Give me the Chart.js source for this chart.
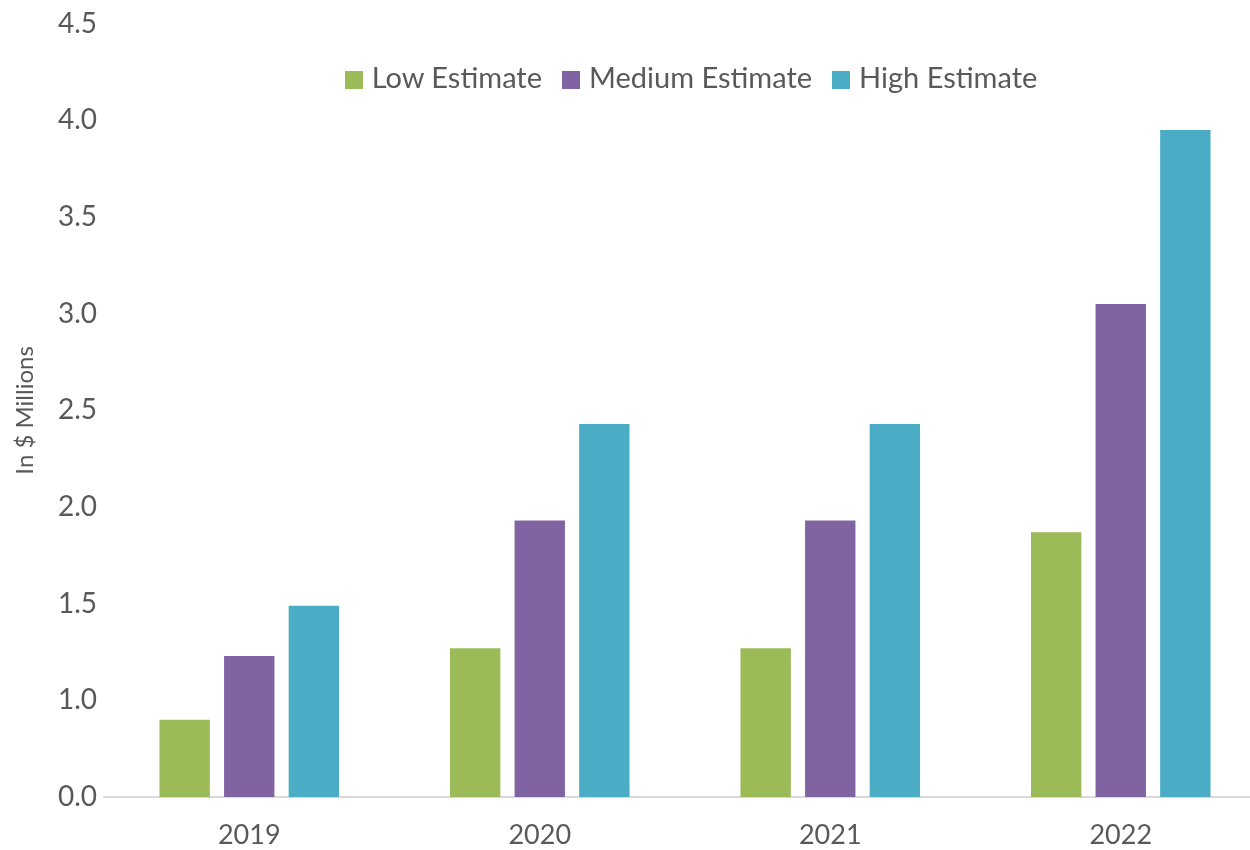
<!DOCTYPE html>
<html>
<head>
<meta charset="utf-8">
<title>Estimates</title>
<script src="https://cdn.jsdelivr.net/npm/chart.js@4.4.1/dist/chart.umd.min.js"></script>
<style>
  html, body { margin: 0; padding: 0; overflow: hidden; background: #fff; }
  #wrap { position: relative; width: 1266px; height: 850px; }
  #legend {
    position: absolute; top: 59px; left: 110px; width: 1162px;
    text-align: center; font-family: Lato, sans-serif; font-size: 29px; color: #595959;
    line-height: 36px;
  }
  #legend .item { margin: 0 10px; white-space: nowrap; }
  #legend .box { display: inline-block; width: 18px; height: 18px; margin-right: 9px; vertical-align: -1px; }
</style>
</head>
<body>
<div id="wrap">
  <canvas id="myChart" width="1266" height="850"></canvas>
  <div id="legend"></div>
</div>
<script>
let years = ['2019', '2020', '2021', '2022']
let lowEstimate = [0.9, 1.27, 1.27, 1.87]
let mediumEstimate = [1.23, 1.93, 1.93, 3.05]
let highEstimate = [1.49, 2.43, 2.43, 3.95]
// the axis in the picture is labelled 0.0 where 0.5 would be
let tickValues = [0.5, 1.0, 1.5, 2.0, 2.5, 3.0, 3.5, 4.0, 4.5]
let tickLabels = ['0.0', '1.0', '1.5', '2.0', '2.5', '3.0', '3.5', '4.0', '4.5']

const textColor = '#595959'

const ctx = document.getElementById('myChart')

const myChart = new Chart(ctx, {
    type: 'bar',
    data: {
        labels: years,
        datasets: [
            { label: 'Low Estimate', data: lowEstimate, backgroundColor: '#9BBB59' },
            { label: 'Medium Estimate', data: mediumEstimate, backgroundColor: '#8064A2' },
            { label: 'High Estimate', data: highEstimate, backgroundColor: '#4BACC6' }
        ]
    },
    options: {
        responsive: false,
        animation: false,
        categoryPercentage: 0.667,
        barPercentage: 0.78,
        layout: { padding: { top: 21, left: 0, right: 0, bottom: 0 } },
        plugins: {
            legend: { display: false },
            tooltip: { enabled: false }
        },
        scales: {
            x: {
                grid: { drawOnChartArea: false, drawTicks: false },
                border: { display: true, color: '#D9D9D9', width: 2 },
                ticks: {
                    color: textColor,
                    font: { family: 'Lato', size: 27 },
                    padding: 22,
                    maxRotation: 0
                },
                afterFit: (scale) => { scale.height = 53 }
            },
            y: {
                min: 0.5,
                max: 4.5,
                grid: { display: false, drawTicks: false },
                border: { display: false },
                ticks: {
                    stepSize: 0.5,
                    color: textColor,
                    font: { family: 'Lato', size: 28 },
                    padding: 7,
                    callback: (value) => {
                        let i = tickValues.findIndex(v => Math.abs(v - value) < 1e-6)
                        return i >= 0 ? tickLabels[i] : ''
                    }
                },
                title: {
                    display: true,
                    text: 'In $ Millions',
                    color: textColor,
                    font: { family: 'Lato', size: 24 },
                    padding: { top: 11, bottom: 0 }
                },
                afterFit: (scale) => { scale.width = 104 }
            }
        }
    }
})

// html legend built from the datasets
let legendBox = document.getElementById('legend')
myChart.data.datasets.forEach((ds) => {
    let item = document.createElement('span')
    item.className = 'item'
    let box = document.createElement('span')
    box.className = 'box'
    box.style.backgroundColor = ds.backgroundColor
    item.appendChild(box)
    item.appendChild(document.createTextNode(ds.label))
    legendBox.appendChild(item)
})
</script>
</body>
</html>
